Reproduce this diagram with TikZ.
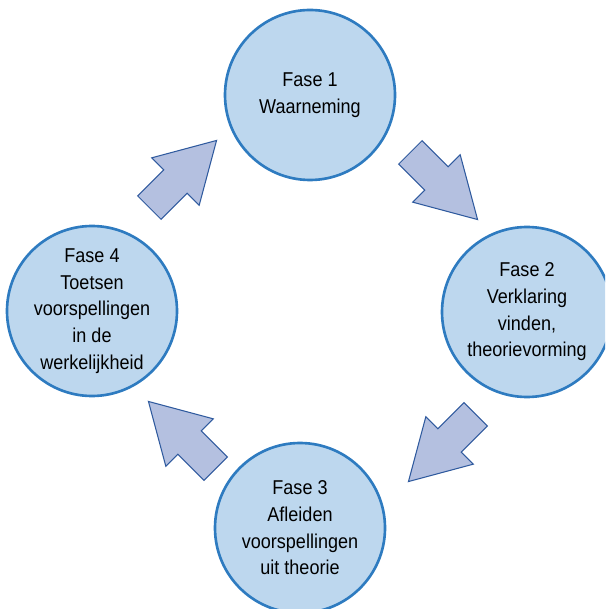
\documentclass[tikz,border=0pt]{standalone}
\usepackage{fontspec}
\setmainfont{Liberation Sans}[FakeStretch=0.9]
\usepackage{xcolor}
\usetikzlibrary{shapes.arrows}

\definecolor{phasefill}{HTML}{BDD7EE}
\definecolor{phaseline}{HTML}{2E7BC0}
\definecolor{arrowfill}{HTML}{B4C0E0}
\definecolor{arrowline}{HTML}{2F5A9E}

\begin{document}
\begin{tikzpicture}[
    x=0.2mm, y=-0.2mm,
    every node/.style={color=black, font=\fontsize{11.4}{15.2}\selectfont},
    phase/.style={draw=phaseline, fill=phasefill, circle, line width=1.5pt,
                  minimum size=34mm, inner sep=0pt, align=center},
    cycarrow/.style={draw=arrowline, fill=arrowfill, single arrow, line width=0.6pt,
                     minimum height=19mm, minimum width=13.2mm,
                     inner xsep=0pt, inner ysep=3.2mm,
                     single arrow head extend=3.4mm, single arrow tip angle=60,
                     anchor=tail}
]
\useasboundingbox (0,0) rectangle (605,609);
\clip (0,0) rectangle (605,609);

% =========================================================
% the four phases of the cycle
% =========================================================
\node[phase] (fase1) at (310,95)  {Fase 1\\Waarneming};
\node[phase] (fase2) at (527,312) {Fase 2\\Verklaring\\vinden,\\theorievorming};
\node[phase] (fase3) at (300,528) {Fase 3\\Afleiden\\voorspellingen\\uit theorie};
\node[phase] (fase4) at (92,311)  {Fase 4\\Toetsen\\voorspellingen\\in de\\werkelijkheid};

% =========================================================
% block arrows between the phases (clockwise)
% =========================================================
\node[cycarrow, rotate=-45]  (a12) at (410,152) {};
\node[cycarrow, rotate=-135] (a23) at (476,414) {};
\node[cycarrow, rotate=135]  (a34) at (216,469) {};
\node[cycarrow, rotate=45]   (a41) at (149,208) {};

\end{tikzpicture}
\end{document}
